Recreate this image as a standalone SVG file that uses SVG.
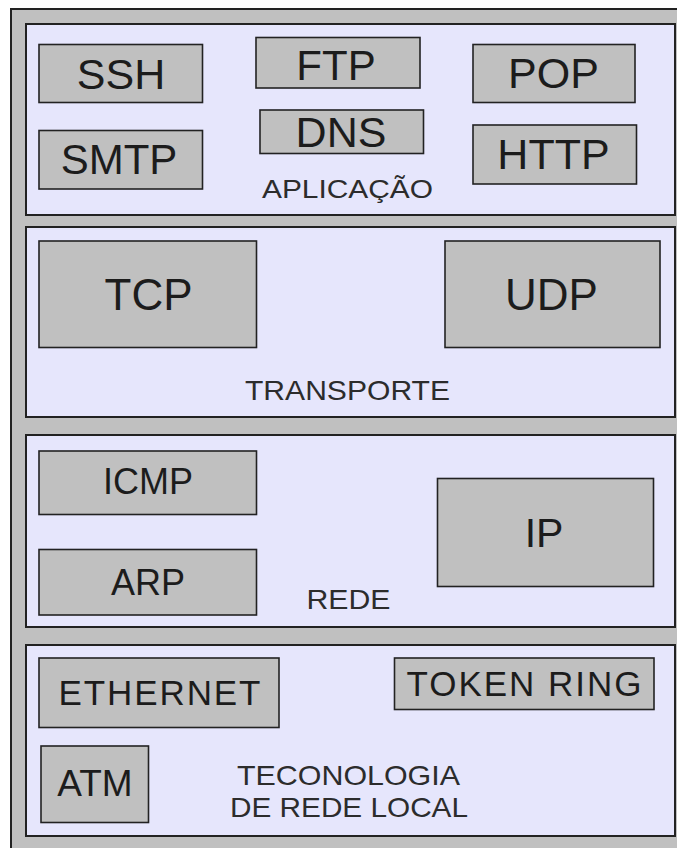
<svg xmlns="http://www.w3.org/2000/svg" width="677" height="848" viewBox="0 0 677 848">
  <style>
    .frame { fill: #c0c0c0; stroke: #222; stroke-width: 2; }
    .layer { fill: #e6e6fc; stroke: #222; stroke-width: 2; }
    .box { fill: #c0c0c0; stroke: #222; stroke-width: 1.6; }
    .lbl { font-family: "Liberation Sans", Arial, sans-serif; fill: #1c1c1c; text-anchor: middle; }
    .cap { font-family: "Liberation Sans", Arial, sans-serif; fill: #2c2c2c; text-anchor: middle; }
  </style>

  <!-- outer stack frame -->
  <rect class="frame" x="11" y="9" width="680" height="860"/>

  <!-- application layer -->
  <g id="layer-aplicacao">
    <rect class="layer" x="26" y="24" width="649" height="191"/>
    <text class="cap" x="347.5" y="197.5" font-size="26" textLength="171" lengthAdjust="spacingAndGlyphs">APLICAÇÃO</text>
  </g>
  <g id="ssh">
    <rect class="box" x="39" y="44.5" width="163.5" height="58"/>
    <text class="lbl" x="121" y="88.5" font-size="43">SSH</text>
  </g>
  <g id="smtp">
    <rect class="box" x="39" y="130.5" width="163.5" height="58.5"/>
    <text class="lbl" x="119" y="174" font-size="42">SMTP</text>
  </g>
  <g id="ftp">
    <rect class="box" x="256" y="37.5" width="164" height="50.5"/>
    <text class="lbl" x="336" y="80" font-size="42">FTP</text>
  </g>
  <g id="dns">
    <rect class="box" x="260" y="110" width="163.5" height="43.5"/>
    <text class="lbl" x="341" y="146.5" font-size="43">DNS</text>
  </g>
  <g id="pop">
    <rect class="box" x="473" y="44.5" width="162" height="58"/>
    <text class="lbl" x="553.5" y="88" font-size="43">POP</text>
  </g>
  <g id="http">
    <rect class="box" x="473" y="125" width="163.5" height="59"/>
    <text class="lbl" x="553.5" y="169" font-size="43">HTTP</text>
  </g>

  <!-- transport layer -->
  <g id="layer-transporte">
    <rect class="layer" x="26" y="227" width="649" height="190"/>
    <text class="cap" x="347.5" y="400" font-size="28" textLength="205" lengthAdjust="spacingAndGlyphs">TRANSPORTE</text>
  </g>
  <g id="tcp">
    <rect class="box" x="39" y="241" width="217.5" height="106.5"/>
    <text class="lbl" x="148.5" y="309.5" font-size="44">TCP</text>
  </g>
  <g id="udp">
    <rect class="box" x="445" y="241" width="215" height="106.5"/>
    <text class="lbl" x="551.5" y="309.5" font-size="44">UDP</text>
  </g>

  <!-- network layer -->
  <g id="layer-rede">
    <rect class="layer" x="26" y="435" width="649" height="192"/>
    <text class="cap" x="348.5" y="608.5" font-size="27" textLength="84" lengthAdjust="spacingAndGlyphs">REDE</text>
  </g>
  <g id="icmp">
    <rect class="box" x="39" y="451" width="217.5" height="63.5"/>
    <text class="lbl" x="148" y="494" font-size="36">ICMP</text>
  </g>
  <g id="arp">
    <rect class="box" x="39" y="549.5" width="217.5" height="65.5"/>
    <text class="lbl" x="148" y="595" font-size="36">ARP</text>
  </g>
  <g id="ip">
    <rect class="box" x="437.5" y="478.5" width="216" height="108"/>
    <text class="lbl" x="544" y="546.5" font-size="41">IP</text>
  </g>

  <!-- local network technology layer -->
  <g id="layer-rede-local">
    <rect class="layer" x="26" y="645" width="649" height="191"/>
    <text class="cap" x="348.5" y="785" font-size="28" textLength="223" lengthAdjust="spacingAndGlyphs">TECONOLOGIA</text>
    <text class="cap" x="349" y="816.5" font-size="28" textLength="238" lengthAdjust="spacingAndGlyphs">DE REDE LOCAL</text>
  </g>
  <g id="ethernet">
    <rect class="box" x="39" y="658" width="240" height="69.5"/>
    <text class="lbl" x="159.5" y="705" font-size="35" textLength="202">ETHERNET</text>
  </g>
  <g id="atm">
    <rect class="box" x="41" y="746" width="107.5" height="76.5"/>
    <text class="lbl" x="95" y="795.5" font-size="37">ATM</text>
  </g>
  <g id="token-ring">
    <rect class="box" x="394.5" y="658" width="259.5" height="51.5"/>
    <text class="lbl" x="524" y="695.5" font-size="35" textLength="235">TOKEN RING</text>
  </g>
</svg>
